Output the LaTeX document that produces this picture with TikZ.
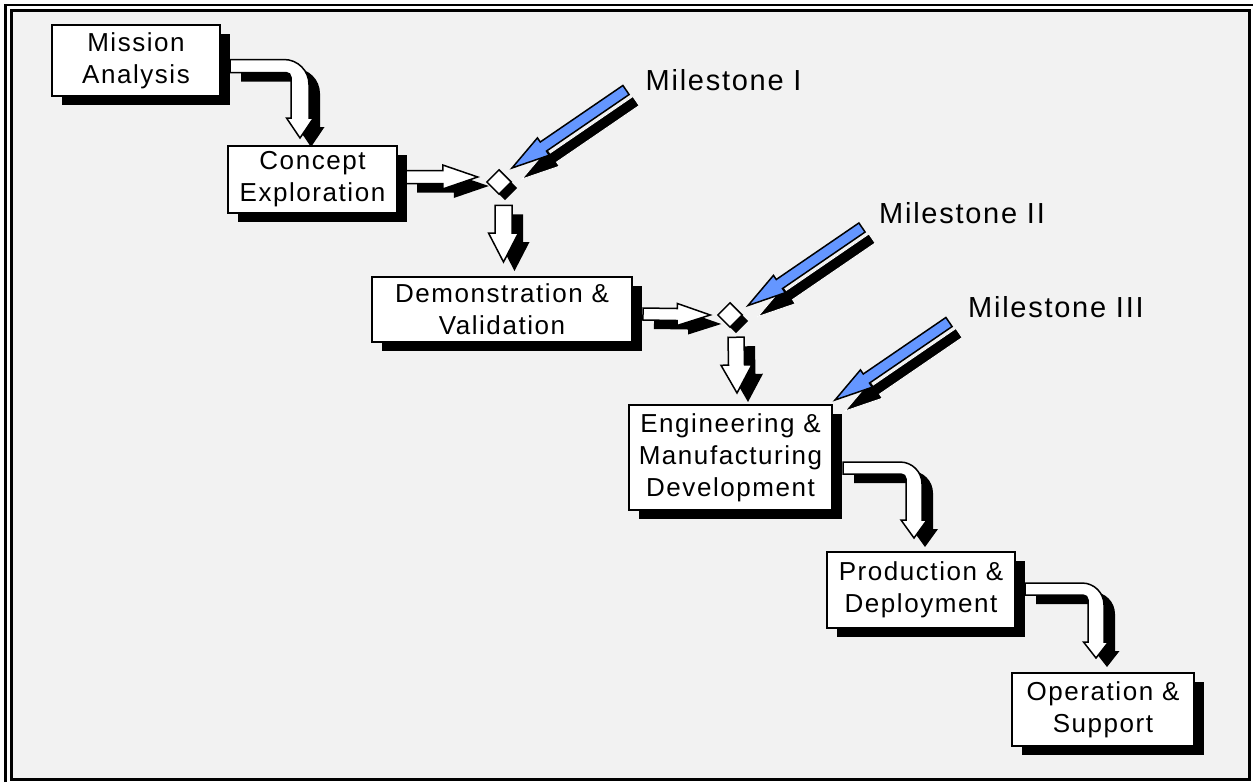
\documentclass[tikz,border=0pt]{standalone}
\usepackage{fontspec}
\setmainfont{Liberation Sans}[LetterSpace=6]
\usetikzlibrary{calc,shapes.geometric,shadows}
\definecolor{msblue}{RGB}{100,150,255}
\definecolor{bggray}{RGB}{242,242,242}
\newcommand\boxfont{\fontsize{26}{32}\selectfont}
\newcommand\msfont{\fontsize{29}{34}\selectfont}
% straight fat arrow polygon: tip, tail, head length, head half width, shaft half width, style
\newcommand\fatpoly[6]{%
  \path ($(#1)!#3!(#2)$) coordinate (fah);
  \path[#6] (#1) -- ($(fah)!#4!90:(#2)$) -- ($(fah)!#5!90:(#2)$) -- ($(#2)!#5!-90:(#1)$)
    -- ($(#2)!#5!90:(#1)$) -- ($(fah)!#5!-90:(#2)$) -- ($(fah)!#4!-90:(#2)$) -- cycle;}
% tip, tail, Lh, hw, sw, main style, shadow style, shadow offset
\newcommand\fatarrow[8]{%
  \path ($(#1)+#8$) coordinate (fsT) ($(#2)+#8$) coordinate (fsL);
  \fatpoly{fsT}{fsL}{#3}{#4}{#5}{#7}
  \fatpoly{#1}{#2}{#3}{#4}{#5}{#6}}
% bent arrow polygon: start, tip, Lh, hw, wh, wv, R, ri, style
\newcommand\bentpoly[9]{%
  \path[#9] ($(#1)+(0,-#5)$) -- ($(#2|-#1)+(#6-#7,-#5)$)
    .. controls ($(#2|-#1)+(#6-0.448*#7,-#5)$) and ($(#2|-#1)+(#6,0.448*#7-#5)$) .. ($(#2|-#1)+(#6,#7-#5)$)
    -- ($(#2)+(#6,-#3)$) -- ($(#2)+(#4,-#3)$) -- (#2) -- ($(#2)+(-#4,-#3)$) -- ($(#2)+(-#6,-#3)$)
    -- ($(#2|-#1)+(-#6,#5+#8)$)
    .. controls ($(#2|-#1)+(-#6,#5+0.448*#8)$) and ($(#2|-#1)+(-#6-0.448*#8,#5)$) .. ($(#2|-#1)+(-#6-#8,#5)$)
    -- ($(#1)+(0,#5)$) -- cycle;}
\newcommand\bentarrow[8]{%
  \path ($(#1)+(11,9)$) coordinate (bsS) ($(#2)+(11,9)$) coordinate (bsT);
  \bentpoly{bsS}{bsT}{#3}{#4}{#5}{#6}{#7}{#8}{fill=black}
  \bentpoly{#1}{#2}{#3}{#4}{#5}{#6}{#7}{#8}{fill=white,draw=black,line width=1.5pt}}
\tikzset{
  box/.style={draw=black,fill=white,line width=2pt,inner sep=0pt,align=center,font=\boxfont,
    drop shadow={shadow xshift=10pt,shadow yshift=-9pt,opacity=1,fill=black}},
  gate/.style={diamond,draw=black,fill=white,line width=1.5pt,inner sep=0pt,minimum size=25pt,
    drop shadow={shadow xshift=6pt,shadow yshift=-6pt,opacity=1,fill=black}},
  mslabel/.style={anchor=base west,inner sep=0pt,font=\msfont},
  whitearrow/.style={fill=white,draw=black,line width=1.5pt},
  darkshadow/.style={fill=black},
  bluearrow/.style={fill=msblue,draw=black,line width=1.5pt},
  blueshadow/.style={fill=black,draw=white,line width=0.8pt}
}
\begin{document}
\begin{tikzpicture}[x=1pt,y=-1pt]
\fill[white] (0,0) rectangle (1253,782);
\useasboundingbox (0,0) rectangle (1253,782);
\draw[line width=2.5pt] (5.5,782) -- (5.5,5) -- (1253,5);
\filldraw[fill=bggray,line width=2.5pt] (11.5,10.5) rectangle (1249.5,779.5);

% boxes
\node[box,minimum width=168pt,minimum height=71pt] (ma) at (136,60.5) {Mission\\Analysis};
\node[box,minimum width=169pt,minimum height=67pt] (ce) at (312.5,179.5) {Concept\\Exploration};
\node[box,minimum width=260pt,minimum height=65pt] (dv) at (502,309.5) {Demonstration \&\\Validation};
\node[box,minimum width=203pt,minimum height=105pt] (emd) at (730.5,457.5) {Engineering \&\\Manufacturing\\Development};
\node[box,minimum width=188pt,minimum height=76pt] (pd) at (921,590) {Production \&\\Deployment};
\node[box,minimum width=182pt,minimum height=73pt] (os) at (1103,709.5) {Operation \&\\Support};
\node[gate] (d1) at (499,182) {};
\node[gate] (d2) at (730,315) {};

% milestone labels
\node[mslabel] (m1) at (645.5,90) {Milestone I};
\node[mslabel] (m2) at (879,223) {Milestone II};
\node[mslabel] (m3) at (968,317) {Milestone III};

% connector end points
\coordinate (b1s) at ($(ma.east)+(9,5.5)$);
\coordinate (b1t) at ($(ce.north)+(-12.5,-7)$);
\coordinate (b2s) at ($(emd.east)+(10,10.5)$);
\coordinate (b2t) at ($(pd.north)+(-7,-13)$);
\coordinate (b3s) at ($(pd.east)+(9,-1)$);
\coordinate (b3t) at ($(os.north)+(-7,-14)$);
\coordinate (c1s) at ($(ce.east)+(8,-2.5)$);
\coordinate (c1t) at ($(d1.west)+(-8,-5)$);
\coordinate (v1s) at ($(d1.south)+(4.5,10)$);
\coordinate (v1t) at ($(dv.north)+(1.5,-14)$);
\coordinate (c2s) at ($(dv.east)+(10,4.5)$);
\coordinate (c2t) at ($(d2.west)+(-6.5,0)$);
\coordinate (v2s) at ($(d2.south)+(6,9)$);
\coordinate (v2t) at ($(emd.north)+(6.5,-11)$);
\coordinate (t1) at ($(d1)+(13,-14)$);
\coordinate (l1) at ($(t1)+(114,-78)$);
\coordinate (t2) at ($(d2)+(18,-9.5)$);
\coordinate (l2) at ($(t2)+(114,-78)$);
\coordinate (t3) at ($(emd.north east)+(2,-4)$);
\coordinate (l3) at ($(t3)+(114,-78)$);

% bent arrows
\bentarrow{b1s}{b1t}{20}{13.5}{6.5}{9}{25}{5}
\bentarrow{b2s}{b2t}{18}{13}{6}{8}{22}{5}
\bentarrow{b3s}{b3t}{16}{12.5}{6}{8}{22}{5}

% straight arrows
\fatarrow{c1t}{c1s}{35pt}{12pt}{6.5pt}{whitearrow}{darkshadow}{(11,9)}
\fatarrow{v1t}{v1s}{29pt}{15pt}{8.5pt}{whitearrow}{darkshadow}{(11,9)}
\fatarrow{c2t}{c2s}{33pt}{11pt}{6pt}{whitearrow}{darkshadow}{(11,9)}
\fatarrow{v2t}{v2s}{28pt}{15.5pt}{8pt}{whitearrow}{darkshadow}{(11,9)}

% milestone arrows
\fatarrow{t1}{l1}{38pt}{10.5pt}{5.5pt}{bluearrow}{blueshadow}{(10,11)}
\fatarrow{t2}{l2}{38pt}{10.5pt}{5.5pt}{bluearrow}{blueshadow}{(10,11)}
\fatarrow{t3}{l3}{38pt}{10.5pt}{5.5pt}{bluearrow}{blueshadow}{(10,11)}
\end{tikzpicture}
\end{document}
